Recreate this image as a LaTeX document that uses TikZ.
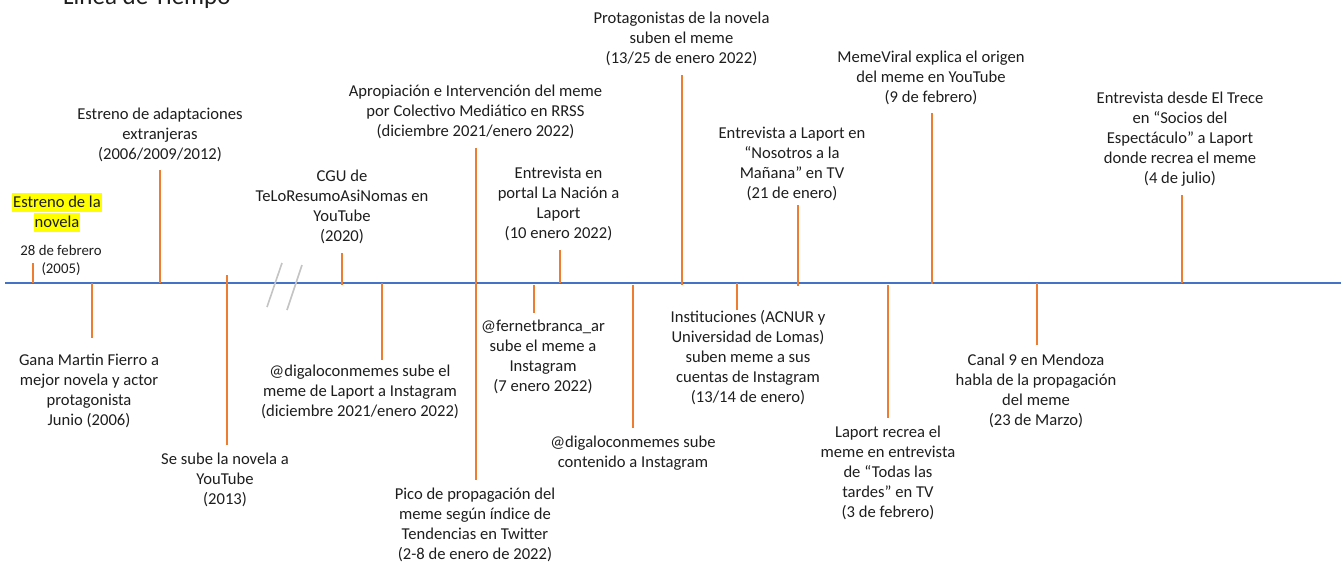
\documentclass[tikz,border=0pt]{standalone}
\usepackage{fontspec}
\setmainfont{Carlito}
\definecolor{axisblue}{HTML}{4472C4}
\definecolor{tickorange}{HTML}{ED7D31}
\definecolor{txt}{HTML}{1E1E1E}
\definecolor{slashgray}{HTML}{C4C4C4}
\definecolor{hl}{HTML}{FFFF00}
\newcommand{\tlines}[1]{\strut#1\strut}
\newcommand{\hlline}[1]{{\fboxsep=1pt\colorbox{hl}{\rule[-3.5pt]{0pt}{17pt}#1}}}
\begin{document}
\begin{tikzpicture}[x=1pt,y=-1pt,
  lbl/.style={align=center,inner sep=0pt,text=txt,font=\fontsize{16.6}{20}\selectfont},
  smalllbl/.style={align=center,inner sep=0pt,text=txt,font=\fontsize{14.8}{18}\selectfont},
  titlelbl/.style={inner sep=0pt,text=txt,font=\fontsize{25}{30}\selectfont},
  axisline/.style={draw=axisblue,line width=1.3pt},
  tickline/.style={draw=tickorange,line width=1.2pt},
  slashline/.style={draw=slashgray,line width=1.6pt}]
\useasboundingbox (0,0) rectangle (1341,562);
\fill[white] (0,0) rectangle (1341,562);

% title (cut off by the page edge)
\node[titlelbl,anchor=base west] (title) at (63,4.5) {Línea de Tiempo};

% axis
\coordinate (ax0) at (5,283);
\coordinate (ax1) at (1341,283);
\draw[axisline] (ax0) -- (ax1);

% break marks
\coordinate (s1a) at (282,263); \coordinate (s1b) at (267,307);
\coordinate (s2a) at (302,265); \coordinate (s2b) at (287,310);
\draw[slashline] (s1a) -- (s1b);
\draw[slashline] (s2a) -- (s2b);

% ticks
\foreach \n/\x/\a/\b in {
  t1/33/263/283, t2/160/170/283, t3/342/253/285, t4/476/148/283,
  t5/560/250/283, t6/682/75/285, t7/798/205/286, t8/932/113/284, t9/1182/195/283,
  b1/92/283/338, b2/227/275/445, b3/382/283/360, b4/476/283/480,
  b5/534/285/313, b6/633/285/428, b7/737/283/310, b8/888/285/418, b9/1037/283/345}{
  \coordinate (\n-a) at (\x,\a);
  \coordinate (\n-b) at (\x,\b);
  \draw[tickline] (\n-a) -- (\n-b);
}

% labels above
\node[lbl] (novela) at (57,212.5) {\hlline{Estreno de la}\\\hlline{novela}};
\node[smalllbl] (feb) at (61,260.5) {\tlines{28 de febrero\\(2005)}};
\node[lbl] (adapt) at (160,135.5) {\tlines{Estreno de adaptaciones\\extranjeras\\(2006/2009/2012)}};
\node[lbl] (cgu) at (342,207.5) {\tlines{CGU de\\TeLoResumoAsiNomas en\\YouTube\\(2020)}};
\node[lbl] (aprop) at (475.5,112.5) {\tlines{Apropiación e Intervención del meme\\por Colectivo Mediático en RRSS\\(diciembre 2021/enero 2022)}};
\node[lbl] (nacion) at (558.5,204.5) {\tlines{Entrevista en\\portal La Nación a\\Laport\\(10 enero 2022)}};
\node[lbl] (protag) at (681.5,39.5) {\tlines{Protagonistas de la novela\\suben el meme\\(13/25 de enero 2022)}};
\node[lbl] (nosotros) at (792,164.5) {\tlines{Entrevista a Laport en\\“Nosotros a la\\Mañana” en TV\\(21 de enero)}};
\node[lbl] (viral) at (931,78.5) {\tlines{MemeViral explica el origen\\del meme en YouTube\\(9 de febrero)}};
\node[lbl] (trece) at (1180,139.5) {\tlines{Entrevista desde El Trece\\en “Socios del\\Espectáculo” a Laport\\donde recrea el meme\\(4 de julio)}};

% labels below
\node[lbl] (fierro) at (89,391.5) {\tlines{Gana Martin Fierro a\\mejor novela y actor\\protagonista\\Junio (2006)}};
\node[lbl] (youtube) at (225,480.5) {\tlines{Se sube la novela a\\YouTube\\(2013)}};
\node[lbl] (digalo1) at (360,392.5) {\tlines{@digaloconmemes sube el\\meme de Laport a Instagram\\(diciembre 2021/enero 2022)}};
\node[lbl] (pico) at (475,525.5) {\tlines{Pico de propagación del\\meme según índice de\\Tendencias en Twitter\\(2-8 de enero de 2022)}};
\node[lbl] (fernet) at (543,357.5) {\tlines{@fernetbranca\_ar\\sube el meme a\\Instagram\\(7 enero 2022)}};
\node[lbl] (digalo2) at (633,453.5) {\tlines{@digaloconmemes sube\\contenido a Instagram}};
\node[lbl] (acnur) at (748,358.5) {\tlines{Instituciones (ACNUR y\\Universidad de Lomas)\\suben meme a sus\\cuentas de Instagram\\(13/14 de enero)}};
\node[lbl] (tardes) at (888,473.5) {\tlines{Laport recrea el\\meme en entrevista\\de “Todas las\\tardes” en TV\\(3 de febrero)}};
\node[lbl] (canal) at (1036,391.5) {\tlines{Canal 9 en Mendoza\\habla de la propagación\\del meme\\(23 de Marzo)}};
\end{tikzpicture}
\end{document}
